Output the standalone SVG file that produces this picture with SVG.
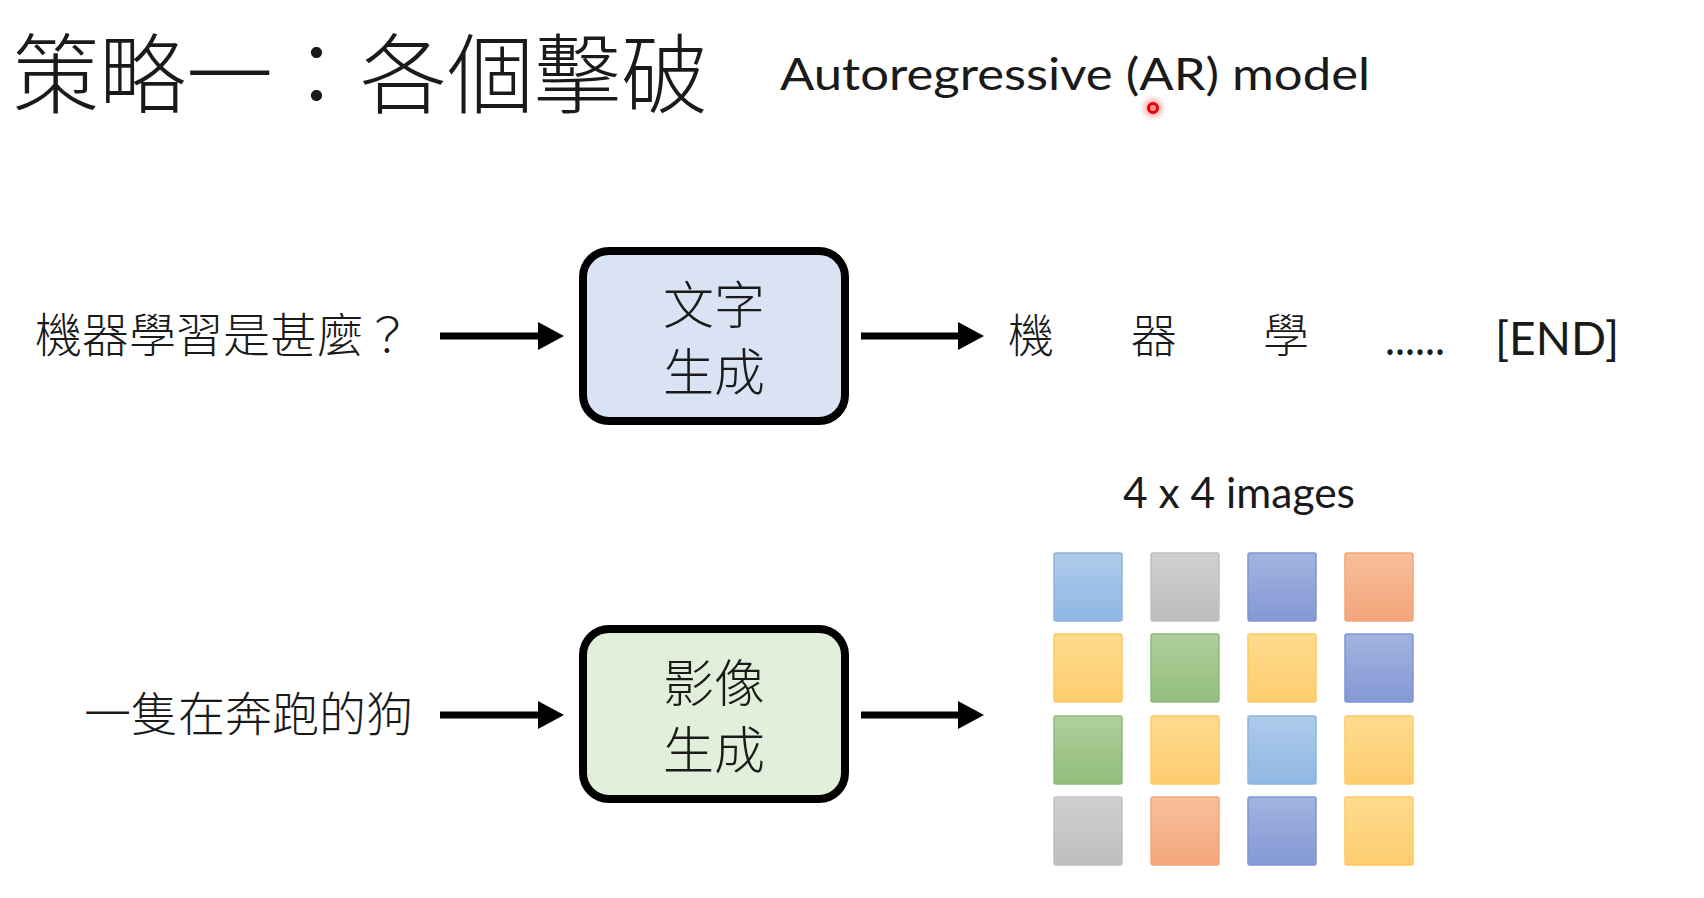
<svg xmlns="http://www.w3.org/2000/svg" width="1704" height="898" viewBox="0 0 1704 898">
<style>
.cjk{font-family:"Noto Sans CJK TC","Noto Sans CJK SC",sans-serif;font-weight:300;fill:#1a1a1a}
.lat{font-family:Lato,"Open Sans","Liberation Sans",sans-serif;fill:#1a1a1a}
.box{stroke:#000;stroke-width:8}
.arrow{stroke:#000;stroke-width:7;fill:none}
.sq{stroke-width:1.5}
</style>
<defs>
<marker id="head" markerUnits="userSpaceOnUse" markerWidth="26" markerHeight="28" refX="0" refY="14" orient="auto" viewBox="0 0 26 28">
<path d="M0,0 L26,14 L0,28 z" fill="#000"/>
</marker>
<linearGradient id="gLB" x1="0" y1="0" x2="0" y2="1"><stop offset="0" stop-color="#aecbeb"/><stop offset="1" stop-color="#8fb7e3"/></linearGradient>
<linearGradient id="gGr" x1="0" y1="0" x2="0" y2="1"><stop offset="0" stop-color="#d0d0d0"/><stop offset="1" stop-color="#bdbdbd"/></linearGradient>
<linearGradient id="gB" x1="0" y1="0" x2="0" y2="1"><stop offset="0" stop-color="#a2b4e0"/><stop offset="1" stop-color="#8498d4"/></linearGradient>
<linearGradient id="gO" x1="0" y1="0" x2="0" y2="1"><stop offset="0" stop-color="#f8bf9a"/><stop offset="1" stop-color="#f3a57a"/></linearGradient>
<linearGradient id="gY" x1="0" y1="0" x2="0" y2="1"><stop offset="0" stop-color="#ffdb8e"/><stop offset="1" stop-color="#fdcd6e"/></linearGradient>
<linearGradient id="gG" x1="0" y1="0" x2="0" y2="1"><stop offset="0" stop-color="#b0cf9c"/><stop offset="1" stop-color="#92bd7c"/></linearGradient>
<radialGradient id="glow"><stop offset="0" stop-color="#ff3030" stop-opacity="0.6"/><stop offset="1" stop-color="#ff3030" stop-opacity="0"/></radialGradient>
</defs>

<g id="title">
<text class="cjk" x="12" y="107" font-size="87">策略一：各個擊破</text>
<text class="lat" x="780" y="90" font-size="44" textLength="590" lengthAdjust="spacingAndGlyphs">Autoregressive (AR) model</text>
<circle cx="1153" cy="108" r="13" fill="url(#glow)"/>
<circle cx="1153" cy="108" r="4.5" fill="none" stroke="#e3000b" stroke-width="3"/>
</g>

<g id="input-text">
<text class="cjk" x="35" y="352" font-size="47">機器學習是甚麼？</text>
</g>

<g id="node-text-gen">
<rect class="box" x="583" y="251" width="262" height="170" rx="26" fill="#dae3f3"/>
<text class="cjk" font-size="51" text-anchor="middle"><tspan x="714" y="324">文字</tspan><tspan x="714" y="391">生成</tspan></text>
</g>

<g id="output-tokens">
<text class="cjk" x="1008" y="352" font-size="46">機</text>
<text class="cjk" x="1131" y="352" font-size="46">器</text>
<text class="cjk" x="1263" y="352" font-size="46">學</text>
<text class="lat" x="1385" y="355" font-size="46" textLength="60" lengthAdjust="spacingAndGlyphs">......</text>
<text class="lat" x="1495" y="355" font-size="47" textLength="124" lengthAdjust="spacingAndGlyphs">[END]</text>
</g>

<g id="input-image">
<text class="cjk" x="84" y="731" font-size="47">一隻在奔跑的狗</text>
</g>

<g id="node-image-gen">
<rect class="box" x="583" y="629" width="262" height="170" rx="26" fill="#e2efda"/>
<text class="cjk" font-size="51" text-anchor="middle"><tspan x="714" y="702">影像</tspan><tspan x="714" y="769">生成</tspan></text>
</g>

<g id="image-grid">
<text class="lat" x="1123" y="508" font-size="42" textLength="232" lengthAdjust="spacingAndGlyphs">4 x 4 images</text>
<rect class="sq" x="1054" y="553" width="68" height="68" rx="2" fill="url(#gLB)" stroke="#8fb4e0"/>
<rect class="sq" x="1151" y="553" width="68" height="68" rx="2" fill="url(#gGr)" stroke="#c0c0c0"/>
<rect class="sq" x="1248" y="553" width="68" height="68" rx="2" fill="url(#gB)" stroke="#7f96d2"/>
<rect class="sq" x="1345" y="553" width="68" height="68" rx="2" fill="url(#gO)" stroke="#f2a57a"/>
<rect class="sq" x="1054" y="634" width="68" height="68" rx="2" fill="url(#gY)" stroke="#fdca60"/>
<rect class="sq" x="1151" y="634" width="68" height="68" rx="2" fill="url(#gG)" stroke="#8fba79"/>
<rect class="sq" x="1248" y="634" width="68" height="68" rx="2" fill="url(#gY)" stroke="#fdca60"/>
<rect class="sq" x="1345" y="634" width="68" height="68" rx="2" fill="url(#gB)" stroke="#7f96d2"/>
<rect class="sq" x="1054" y="716" width="68" height="68" rx="2" fill="url(#gG)" stroke="#8fba79"/>
<rect class="sq" x="1151" y="716" width="68" height="68" rx="2" fill="url(#gY)" stroke="#fdca60"/>
<rect class="sq" x="1248" y="716" width="68" height="68" rx="2" fill="url(#gLB)" stroke="#8fb4e0"/>
<rect class="sq" x="1345" y="716" width="68" height="68" rx="2" fill="url(#gY)" stroke="#fdca60"/>
<rect class="sq" x="1054" y="797" width="68" height="68" rx="2" fill="url(#gGr)" stroke="#c0c0c0"/>
<rect class="sq" x="1151" y="797" width="68" height="68" rx="2" fill="url(#gO)" stroke="#f2a57a"/>
<rect class="sq" x="1248" y="797" width="68" height="68" rx="2" fill="url(#gB)" stroke="#7f96d2"/>
<rect class="sq" x="1345" y="797" width="68" height="68" rx="2" fill="url(#gY)" stroke="#fdca60"/>
</g>

<g id="connectors">
<line class="arrow" x1="440" y1="336" x2="538" y2="336" marker-end="url(#head)"/>
<line class="arrow" x1="861" y1="336" x2="958" y2="336" marker-end="url(#head)"/>
<line class="arrow" x1="440" y1="715" x2="538" y2="715" marker-end="url(#head)"/>
<line class="arrow" x1="861" y1="715" x2="958" y2="715" marker-end="url(#head)"/>
</g>
</svg>
